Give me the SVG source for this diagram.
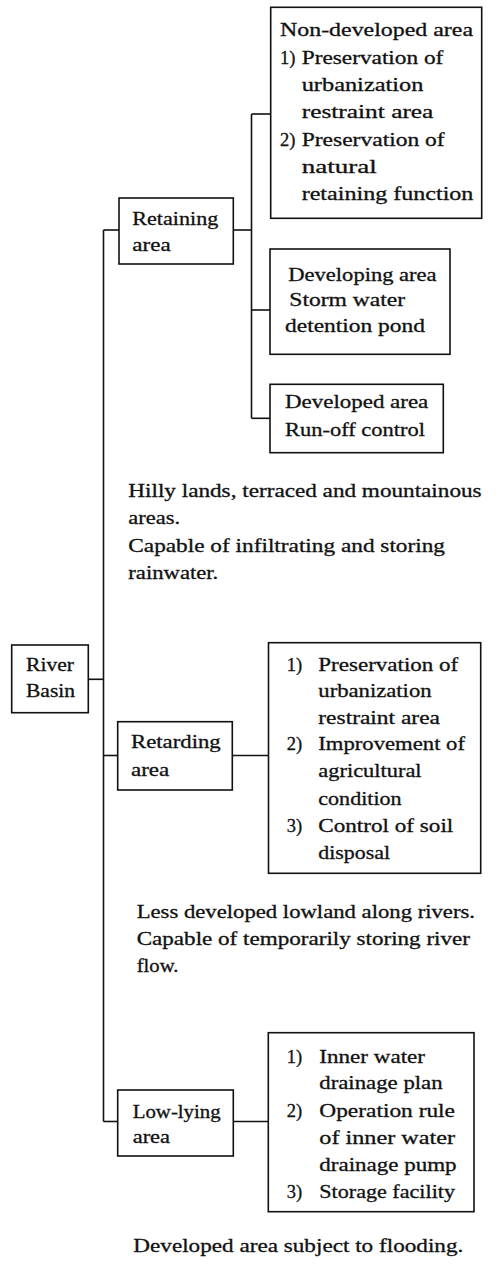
<svg xmlns="http://www.w3.org/2000/svg" width="501" height="1266" viewBox="0 0 501 1266">
<style>
rect.box{fill:#fff;stroke:#111;stroke-width:1.6}
text{font-family:"Liberation Serif","Times New Roman",serif;font-size:18.5px;fill:#111;stroke:#111;stroke-width:0.3}
#connectors path{fill:none;stroke:#111;stroke-width:1.6}
</style>
<rect x="0" y="0" width="501" height="1266" fill="#fff"/>
<g id="connectors">
<path d="M103.5,230 V1121.5"/>
<path d="M103.5,230 H119"/>
<path d="M103.5,755.5 H117.7"/>
<path d="M103.5,1121.5 H117.7"/>
<path d="M88.3,679.3 H103.5"/>
<path d="M233.3,230 H251.5"/>
<path d="M251.5,114 V418.3"/>
<path d="M251.5,114 H270.7"/>
<path d="M251.5,310 H270"/>
<path d="M251.5,418.3 H270"/>
<path d="M232.3,755.5 H268.5"/>
<path d="M233.3,1121.5 H268.3"/>
</g>
<g id="river-basin">
<rect class="box" x="11.7" y="645" width="76.6" height="67.7"/>
<text x="26" y="670.7" textLength="48" lengthAdjust="spacingAndGlyphs">River</text>
<text x="26" y="696.5" textLength="49" lengthAdjust="spacingAndGlyphs">Basin</text>
</g>
<g id="retaining-area">
<rect class="box" x="119" y="198" width="114.3" height="66"/>
<text x="132.3" y="225" textLength="86" lengthAdjust="spacingAndGlyphs">Retaining</text>
<text x="132.3" y="250.7" textLength="38.3" lengthAdjust="spacingAndGlyphs">area</text>
</g>
<g id="non-developed-area">
<rect class="box" x="270.7" y="7.3" width="211" height="211"/>
<text x="280" y="36" textLength="193" lengthAdjust="spacingAndGlyphs">Non-developed area</text>
<text x="280" y="63.5">1)</text>
<text x="301.7" y="63.5" textLength="141.7" lengthAdjust="spacingAndGlyphs">Preservation of</text>
<text x="301.7" y="90.8" textLength="121.7" lengthAdjust="spacingAndGlyphs">urbanization</text>
<text x="301.7" y="118.2" textLength="131.7" lengthAdjust="spacingAndGlyphs">restraint area</text>
<text x="280" y="145.6">2)</text>
<text x="301.7" y="145.6" textLength="143" lengthAdjust="spacingAndGlyphs">Preservation of</text>
<text x="301.7" y="173" textLength="75" lengthAdjust="spacingAndGlyphs">natural</text>
<text x="301.7" y="200.4" textLength="171.7" lengthAdjust="spacingAndGlyphs">retaining function</text>
</g>
<g id="developing-area">
<rect class="box" x="270" y="249" width="180" height="105.3"/>
<text x="288.3" y="280.7" textLength="148.3" lengthAdjust="spacingAndGlyphs">Developing area</text>
<text x="289.3" y="305.7" textLength="115.7" lengthAdjust="spacingAndGlyphs">Storm water</text>
<text x="285" y="331.7" textLength="140" lengthAdjust="spacingAndGlyphs">detention pond</text>
</g>
<g id="developed-area">
<rect class="box" x="270" y="384.3" width="173.3" height="68.4"/>
<text x="285" y="407.7" textLength="143.3" lengthAdjust="spacingAndGlyphs">Developed area</text>
<text x="285" y="435.7" textLength="140" lengthAdjust="spacingAndGlyphs">Run-off control</text>
</g>
<g id="retaining-note">
<text x="128.3" y="496.7" textLength="353.3" lengthAdjust="spacingAndGlyphs">Hilly lands, terraced and mountainous</text>
<text x="128.3" y="524" textLength="51.7" lengthAdjust="spacingAndGlyphs">areas.</text>
<text x="128.3" y="551.7" textLength="316.7" lengthAdjust="spacingAndGlyphs">Capable of infiltrating and storing</text>
<text x="128.3" y="579.3" textLength="90" lengthAdjust="spacingAndGlyphs">rainwater.</text>
</g>
<g id="retarding-area">
<rect class="box" x="117.7" y="721.7" width="114.6" height="68.3"/>
<text x="131" y="748" textLength="89.7" lengthAdjust="spacingAndGlyphs">Retarding</text>
<text x="131" y="776" textLength="38.3" lengthAdjust="spacingAndGlyphs">area</text>
</g>
<g id="retarding-measures">
<rect class="box" x="268.5" y="642.7" width="212.2" height="230.6"/>
<text x="286.7" y="670.7">1)</text>
<text x="318.3" y="670.7" textLength="140" lengthAdjust="spacingAndGlyphs">Preservation of</text>
<text x="318.3" y="697.3" textLength="113.3" lengthAdjust="spacingAndGlyphs">urbanization</text>
<text x="318.3" y="724" textLength="121.7" lengthAdjust="spacingAndGlyphs">restraint area</text>
<text x="286.7" y="749.5">2)</text>
<text x="318.3" y="749.5" textLength="146.7" lengthAdjust="spacingAndGlyphs">Improvement of</text>
<text x="318.3" y="777" textLength="103.3" lengthAdjust="spacingAndGlyphs">agricultural</text>
<text x="318.3" y="804.5" textLength="83.3" lengthAdjust="spacingAndGlyphs">condition</text>
<text x="286.7" y="832">3)</text>
<text x="318.3" y="832" textLength="135" lengthAdjust="spacingAndGlyphs">Control of soil</text>
<text x="318.3" y="858.5" textLength="71.7" lengthAdjust="spacingAndGlyphs">disposal</text>
</g>
<g id="retarding-note">
<text x="136.7" y="918.3" textLength="338.3" lengthAdjust="spacingAndGlyphs">Less developed lowland along rivers.</text>
<text x="136.7" y="945" textLength="333.3" lengthAdjust="spacingAndGlyphs">Capable of temporarily storing river</text>
<text x="136.7" y="971.7" textLength="41.7" lengthAdjust="spacingAndGlyphs">flow.</text>
</g>
<g id="low-lying-area">
<rect class="box" x="117.7" y="1090" width="115.6" height="66"/>
<text x="132.7" y="1118.3" textLength="88" lengthAdjust="spacingAndGlyphs">Low-lying</text>
<text x="132.7" y="1143.3" textLength="37.3" lengthAdjust="spacingAndGlyphs">area</text>
</g>
<g id="low-lying-measures">
<rect class="box" x="268.3" y="1032.7" width="205.7" height="179"/>
<text x="286.7" y="1063.3">1)</text>
<text x="319.3" y="1063.3" textLength="105.7" lengthAdjust="spacingAndGlyphs">Inner water</text>
<text x="319.3" y="1089.3" textLength="123.3" lengthAdjust="spacingAndGlyphs">drainage plan</text>
<text x="286.7" y="1117.3">2)</text>
<text x="319.3" y="1117.3" textLength="135.7" lengthAdjust="spacingAndGlyphs">Operation rule</text>
<text x="319.3" y="1144.3" textLength="135.7" lengthAdjust="spacingAndGlyphs">of inner water</text>
<text x="319.3" y="1170.5" textLength="137.3" lengthAdjust="spacingAndGlyphs">drainage pump</text>
<text x="286.7" y="1198.3">3)</text>
<text x="319.3" y="1198.3" textLength="135.7" lengthAdjust="spacingAndGlyphs">Storage facility</text>
</g>
<g id="low-lying-note">
<text x="133.3" y="1251.7" textLength="330" lengthAdjust="spacingAndGlyphs">Developed area subject to flooding.</text>
</g>
</svg>
